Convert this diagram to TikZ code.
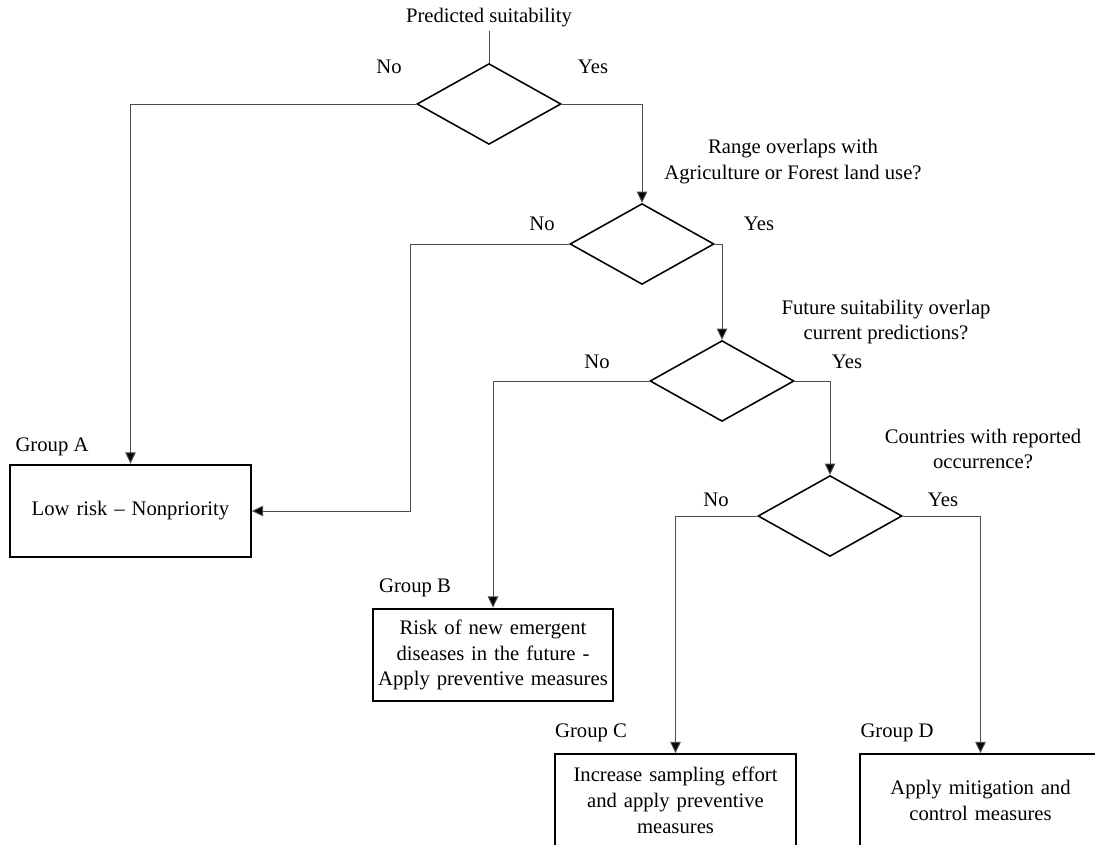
\documentclass[tikz,border=0pt]{standalone}
\usepackage{fontspec}
\setmainfont{Liberation Serif}
\usetikzlibrary{shapes.geometric, arrows.meta, positioning}

\begin{document}
\begin{tikzpicture}[
    x=0.025cm, y=-0.025cm,
    font=\fontsize{14.7}{18.4}\selectfont,
    decision/.style={diamond, draw=black, line width=1.1pt, minimum width=3.6cm, minimum height=2.02cm, inner sep=0pt},
    outcome/.style={rectangle, draw=black, line width=1.4pt, minimum width=6.02cm, minimum height=2.32cm, text width=6.0cm, inner sep=0pt, align=center},
    question/.style={align=center, inner sep=0pt},
    answer/.style={inner sep=0pt},
    arr/.style={-{Triangle[length=8pt, width=7.5pt, fill=black]}, line width=0.7pt, draw=black!70},
    link/.style={line width=0.7pt, draw=black!70}
]
\useasboundingbox (0,0) rectangle (1095,845);
\clip (0,0) rectangle (1095,845);

% decisions
\node[question] (q1) at (489,18) {Predicted suitability};
\node[decision] (d1) at (489,104) {};
\node[question] (q2) at (793,162) {Range overlaps with\\Agriculture or Forest land use?};
\node[decision] (d2) at (642,244) {};
\node[question] (q3) at (886,322) {Future suitability overlap\\current predictions?};
\node[decision] (d3) at (722,381) {};
\node[question] (q4) at (983,449) {Countries with reported\\occurrence?};
\node[decision] (d4) at (830,516) {};

% answers
\node[answer] (n1) at (389,67) {No};
\node[answer] (y1) at (593,67) {Yes};
\node[answer] (n2) at (542,224) {No};
\node[answer] (y2) at (759,224) {Yes};
\node[answer] (n3) at (597,362) {No};
\node[answer] (y3) at (847,362) {Yes};
\node[answer] (n4) at (716,500) {No};
\node[answer] (y4) at (943,500) {Yes};

% outcomes
\node[outcome] (ga) at (130.5,511) {Low risk -- Nonpriority};
\node[answer] (la) at (52,447) {Group A};
\node[outcome] (gb) at (493,655) {Risk of new emergent\\diseases in the future -\\Apply preventive measures};
\node[answer] (lb) at (415,588) {Group B};
\node[outcome] (gc) at (675.5,800.5) {Increase sampling effort\\and apply preventive\\measures};
\node[answer] (lc) at (591,733) {Group C};
\node[outcome] (gd) at (980.5,800.5) {Apply mitigation and\\control measures};
\node[answer] (ld) at (897,733) {Group D};

\coordinate (k2) at (410.5,244);

\draw[link] (q1.south) ++(0,3) -- (d1.north);
\draw[arr] (d1.west) -| (ga.north);
\draw[arr] (d1.east) -| (d2.north);
\draw[arr] (d2.west) -- (k2) |- (ga.east);
\draw[arr] (d2.east) -| (d3.north);
\draw[arr] (d3.west) -| (gb.north);
\draw[arr] (d3.east) -| (d4.north);
\draw[arr] (d4.west) -| (gc.north);
\draw[arr] (d4.east) -| (gd.north);
\end{tikzpicture}
\end{document}
